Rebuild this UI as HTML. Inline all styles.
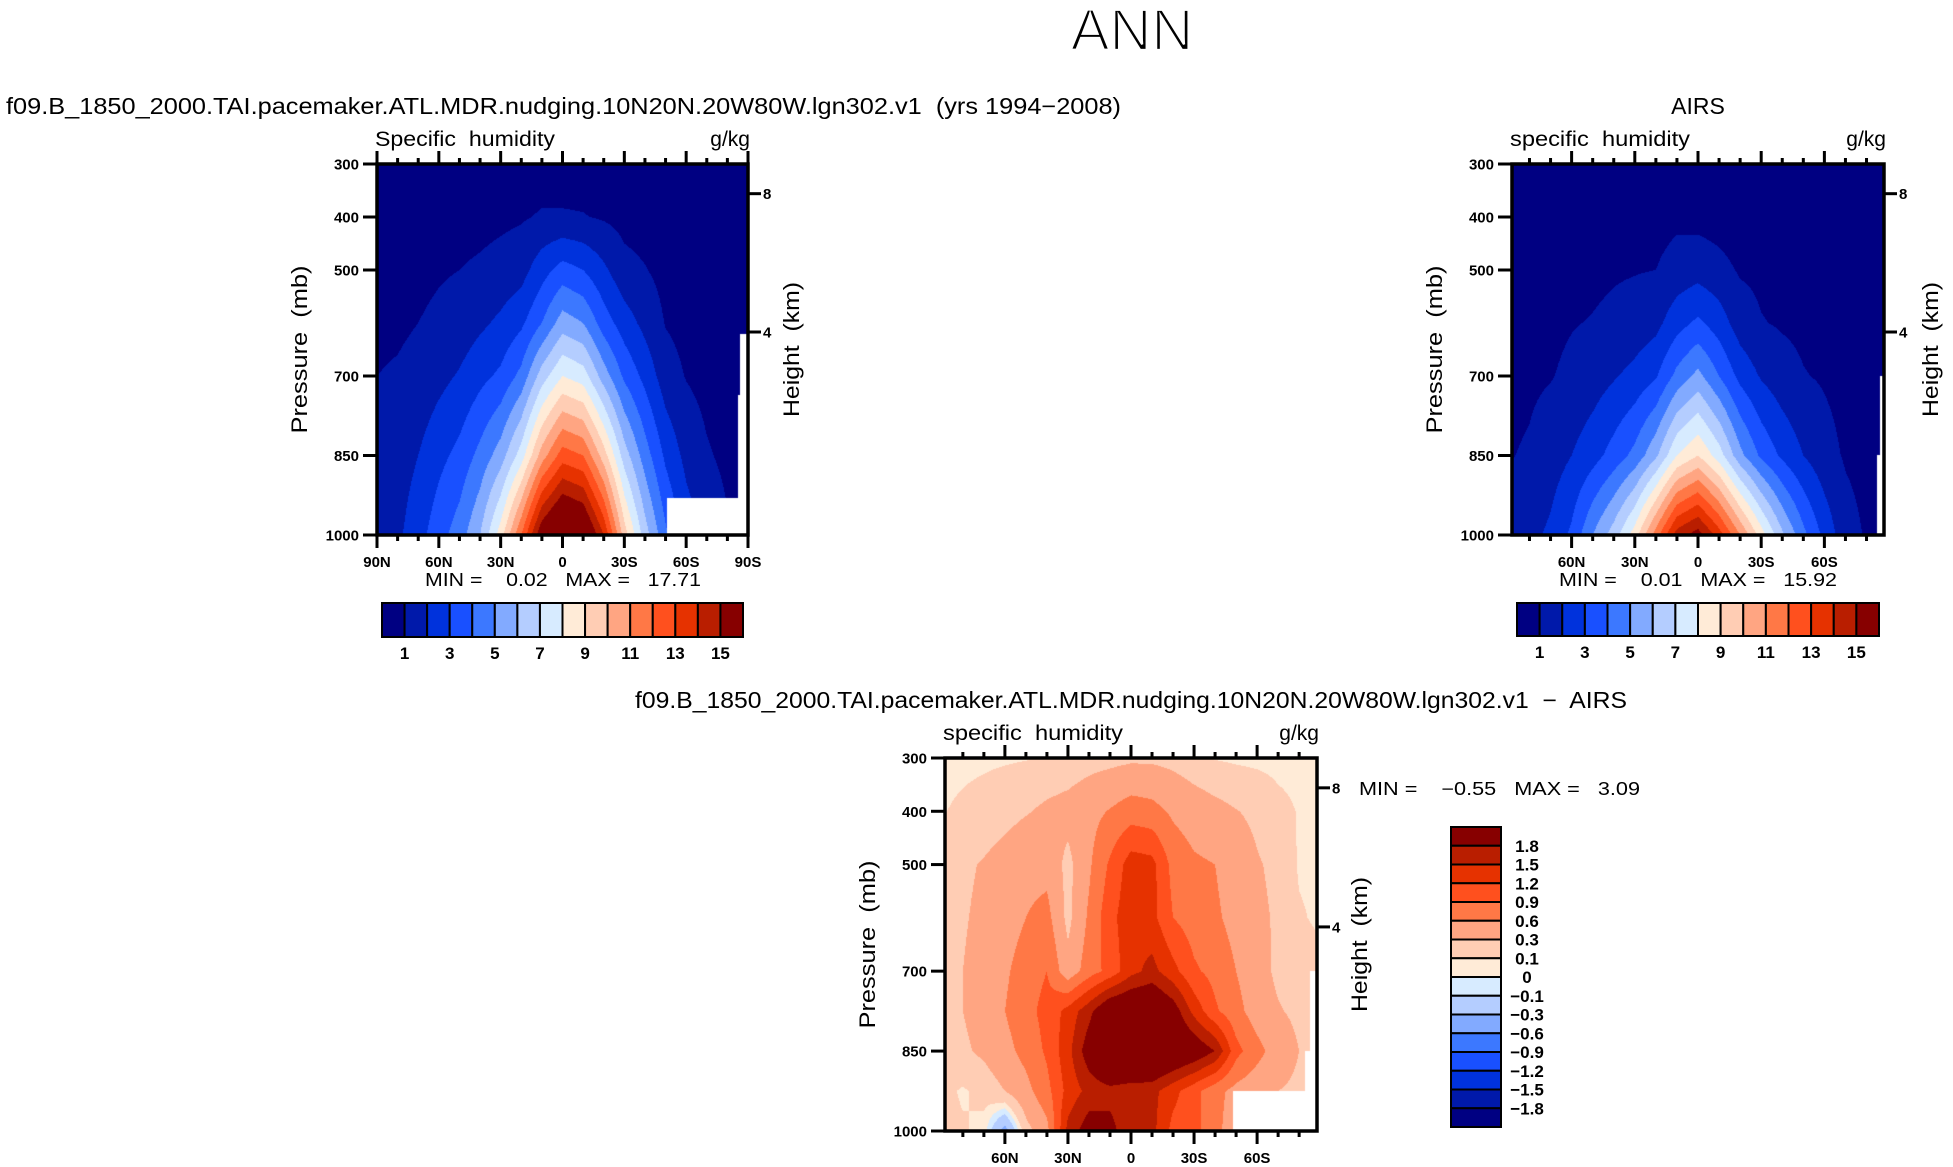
<!DOCTYPE html>
<html><head><meta charset="utf-8"><title>ANN specific humidity</title>
<style>
html,body{margin:0;padding:0;background:#fff;}
#root{position:relative;width:1953px;height:1167px;overflow:hidden;background:#fff;}
canvas{position:absolute;}
svg{position:absolute;left:0;top:0;}
text{font-family:"Liberation Sans",sans-serif;fill:#000;white-space:pre;}
.tk{font-weight:bold;font-size:15px;}
</style></head>
<body>
<div id="root">
<canvas id="c1"></canvas>
<canvas id="c2"></canvas>
<canvas id="c3"></canvas>
<svg id="svg" width="1953" height="1167" xmlns="http://www.w3.org/2000/svg">
<text x="1132" y="50" font-size="58" text-anchor="middle" stroke="#fff" stroke-width="2.2">ANN</text>
<text x="6" y="114" font-size="23" textLength="1115" lengthAdjust="spacingAndGlyphs">f09.B_1850_2000.TAI.pacemaker.ATL.MDR.nudging.10N20N.20W80W.lgn302.v1  (yrs 1994−2008)</text>
<text x="1698" y="114" font-size="23" text-anchor="middle">AIRS</text>
<text x="635" y="708" font-size="23" textLength="992" lengthAdjust="spacingAndGlyphs">f09.B_1850_2000.TAI.pacemaker.ATL.MDR.nudging.10N20N.20W80W.lgn302.v1  −  AIRS</text>
</svg>
</div>
<script>
// ---------- DATA ----------
const lats = [90,80,70,60,50,40,30,20,10,0,-10,-20,-30,-40,-50,-60,-70,-80,-90];
const qPressures = [300,400,500,600,700,850,1000];
// model specific humidity (g/kg), one profile per latitude, 300 -> 1000 mb
const modelQ = [
 [0.2,0.4,0.6,0.8,1.0,1.3,1.5],
 [0.25,0.45,0.65,0.85,1.1,1.5,1.8],
 [0.3,0.5,0.75,1.0,1.3,2.0,2.6],
 [0.3,0.6,0.9,1.2,1.7,2.7,3.6],
 [0.35,0.65,1.0,1.4,2.1,3.3,4.5],
 [0.35,0.7,1.15,1.8,2.7,4.3,6.0],
 [0.4,0.8,1.35,2.2,3.2,5.5,8.5],
 [0.4,0.9,1.6,2.8,4.3,7.5,12],
 [0.5,1.1,2.6,4.0,6.5,10.5,16],
 [0.5,1.1,3.4,5.5,8,12.5,17.7],
 [0.5,1.05,3.0,5.0,7.5,12,17],
 [0.4,0.9,2.2,3.5,5.5,9.5,14],
 [0.35,0.7,1.3,2.5,3.8,6.5,9.5],
 [0.3,0.6,1.05,1.7,2.7,4.5,6.5],
 [0.25,0.45,0.7,0.95,1.45,2.8,4.2],
 [0.2,0.35,0.5,0.7,0.95,1.7,2.6],
 [0.2,0.3,0.4,0.5,0.7,1.1,1.7],
 [0.15,0.25,0.35,0.45,0.55,0.8,1.1],
 [0.1,0.2,0.3,0.4,0.5,0.7,0.9]
];
// AIRS specific humidity (g/kg)
const airsQ = [
 [0.2,0.3,0.45,0.6,0.75,0.95,1.4],
 [0.2,0.35,0.5,0.7,0.85,1.1,1.7],
 [0.2,0.4,0.6,0.8,0.95,1.5,2.2],
 [0.25,0.45,0.7,0.95,1.2,2.0,3.2],
 [0.3,0.5,0.8,1.05,1.5,2.6,5.0],
 [0.3,0.55,0.9,1.2,1.9,3.4,6.5],
 [0.35,0.6,0.95,1.4,2.3,4.3,8.5],
 [0.4,0.65,1.0,1.7,2.9,5.8,11.5],
 [0.4,0.8,1.4,2.6,4.3,8.0,14.5],
 [0.35,0.7,1.6,3.2,5.3,9.0,15.5],
 [0.35,0.6,1.3,2.5,4.0,7.5,13.5],
 [0.3,0.5,0.9,1.5,2.7,5.3,11],
 [0.3,0.45,0.8,1.05,1.9,3.8,8.5],
 [0.3,0.45,0.7,0.9,1.4,2.8,6.2],
 [0.25,0.4,0.6,0.8,1.05,2.0,4.3],
 [0.2,0.35,0.5,0.7,0.9,1.35,2.7],
 [0.15,0.3,0.4,0.55,0.7,0.9,1.4],
 [0.1,0.2,0.3,0.4,0.5,0.7,0.9],
 [0.1,0.15,0.25,0.35,0.45,0.6,0.8]
];
const diffPressures = [300,400,500,600,700,775,850,925,1000];
// model minus AIRS (g/kg)
const diffQ = [
 [0.05,0.09,0.2,0.22,0.22,0.24,0.2,0.15,0.15],
 [0.06,0.13,0.26,0.28,0.3,0.3,0.26,0.08,0.12],
 [0.07,0.17,0.32,0.35,0.38,0.4,0.35,0.15,0.05],
 [0.08,0.22,0.4,0.45,0.55,0.6,0.5,0.3,-0.4],
 [0.09,0.28,0.5,0.6,0.75,0.8,0.7,0.5,0.2],
 [0.12,0.35,0.5,0.7,0.9,1.0,0.95,0.8,0.5],
 [0.15,0.4,0.22,0.22,0.4,1.3,1.4,1.3,1.6],
 [0.2,0.5,0.55,0.65,0.75,1.7,2.0,1.6,2.0],
 [0.22,0.62,0.95,1.1,1.0,2.2,2.5,1.7,1.9],
 [0.25,0.75,1.35,1.4,1.4,2.3,2.6,1.6,1.6],
 [0.25,0.7,1.3,1.3,1.6,2.3,2.5,1.6,1.6],
 [0.22,0.55,0.8,0.9,1.3,2.0,2.3,1.3,1.1],
 [0.15,0.45,0.65,0.75,0.95,1.4,2.1,1.0,1.0],
 [0.09,0.38,0.6,0.65,0.8,0.95,1.8,0.7,0.7],
 [0.07,0.31,0.45,0.5,0.6,0.7,1.0,0.5,0.4],
 [0.06,0.25,0.32,0.35,0.4,0.45,0.7,0.4,0.3],
 [0.05,0.15,0.25,0.27,0.25,0.32,0.45,0.3,0.2],
 [0.05,0.09,0.08,0.12,0.2,0.25,0.3,0.25,0.2],
 [0.05,0.07,0.06,0.07,0.15,0.2,0.25,0.2,0.2]
];
// missing-data regions [latNorth, latSouth, pTop, pBottom]
const modelMissing = [[-50.5,-90,930,1000],[-86,-90,620,1000],[-85,-90,735,1000]];
const airsMissing = [[-86.5,-90,700,1000],[-85,-90,850,1000]];
const diffMissing = [[-48.5,-90,925,1000],[-85,-90,700,1000],[-83,-90,850,1000]];
const qLevels = [1,2,3,4,5,6,7,8,9,10,11,12,13,14,15];
const qLabels = ["1","3","5","7","9","11","13","15"];
const diffLevels = [-1.8,-1.5,-1.2,-0.9,-0.6,-0.3,-0.1,0,0.1,0.3,0.6,0.9,1.2,1.5,1.8];
const diffLabels = ["−1.8","−1.5","−1.2","−0.9","−0.6","−0.3","−0.1","0","0.1","0.3","0.6","0.9","1.2","1.5","1.8"];
const pressureTicks = [300,400,500,700,850,1000];
const heightTicks = [{km:8,p:356},{km:4,p:617}];
const minMaxModel = ["0.02","17.71"];
const minMaxAirs = ["0.01","15.92"];
const minMaxDiff = ["−0.55","3.09"];

const palette = [[0,0,130],[0,25,170],[0,50,220],[25,80,255],[60,120,255],[130,170,255],[180,205,255],[215,235,255],
 [255,235,215],[255,205,180],[255,165,130],[255,120,70],[255,80,30],[230,50,0],[185,30,0],[135,0,0]];

// ---------- helpers ----------
const NS="http://www.w3.org/2000/svg";
const svg=document.getElementById('svg');
function mk(tag,attrs,parent){const e=document.createElementNS(NS,tag);for(const k in attrs)e.setAttribute(k,attrs[k]);(parent||svg).appendChild(e);return e;}
function rgb(c){return 'rgb('+c[0]+','+c[1]+','+c[2]+')';}
function levelIndex(v,levels){let i=0;while(i<levels.length&&v>=levels[i])i++;return i;}
function sample(grid,pres,lat,p){
  let i=0;while(i<lats.length-2&&lat<lats[i+1])i++;
  let j=0;while(j<pres.length-2&&p>pres[j+1])j++;
  const tx=Math.min(1,Math.max(0,(lats[i]-lat)/(lats[i]-lats[i+1])));
  const ty=Math.min(1,Math.max(0,(p-pres[j])/(pres[j+1]-pres[j])));
  const a=grid[i][j],b=grid[i+1][j],c=grid[i][j+1],d=grid[i+1][j+1];
  return (a*(1-tx)+b*tx)*(1-ty)+(c*(1-tx)+d*tx)*ty;
}
function inMissing(boxes,lat,p){for(const b of boxes){if(lat<=b[0]&&lat>=b[1]&&p>=b[2]&&p<=b[3])return true;}return false;}

function drawPanel(P){
  const xOf=lat=>P.left+(P.latMax-lat)/(2*P.latMax)*P.w;
  const yOf=p=>P.top+(p-300)/700*P.h;
  const cv=document.getElementById(P.canvas);
  cv.width=P.w;cv.height=P.h;cv.style.left=P.left+'px';cv.style.top=P.top+'px';
  const ctx=cv.getContext('2d');const img=ctx.createImageData(P.w,P.h);
  for(let py=0;py<P.h;py++){const p=300+(py+0.5)/P.h*700;
    for(let px=0;px<P.w;px++){const lat=P.latMax-(px+0.5)/P.w*2*P.latMax;const k=(py*P.w+px)*4;
      if(inMissing(P.missing,lat,p)){img.data[k]=255;img.data[k+1]=255;img.data[k+2]=255;img.data[k+3]=255;continue;}
      const c=palette[levelIndex(sample(P.grid,P.pres,lat,p),P.levels)];
      img.data[k]=c[0];img.data[k+1]=c[1];img.data[k+2]=c[2];img.data[k+3]=255;}}
  ctx.putImageData(img,0,0);
  const g=mk('g',{});
  
  
  for(let lat=-90;lat<=90;lat+=10){if(Math.abs(lat)>P.latMax+0.01)continue;
    const x=xOf(lat);const major=(lat%30===0);const L=major?13:6;
    mk('line',{x1:x,y1:P.top,x2:x,y2:P.top-L,stroke:'#000','stroke-width':3},g);
    mk('line',{x1:x,y1:P.top+P.h,x2:x,y2:P.top+P.h+L,stroke:'#000','stroke-width':3},g);
    if(major&&(Math.abs(lat)<90||P.latMax>=90)){
      const t=mk('text',{x:x,y:P.top+P.h+32,'text-anchor':'middle',class:'tk'},g);
      t.textContent=lat===0?'0':(Math.abs(lat)+(lat>0?'N':'S'));
      
      }}
  for(const p of pressureTicks){const y=yOf(p);
    mk('line',{x1:P.left,y1:y,x2:P.left-14,y2:y,stroke:'#000','stroke-width':3},g);
    const t=mk('text',{x:P.left-18,y:y+5.5,'text-anchor':'end',class:'tk'},g);t.textContent=p;
    
    }
  for(const h of heightTicks){const y=yOf(h.p);
    mk('line',{x1:P.left+P.w,y1:y,x2:P.left+P.w+13,y2:y,stroke:'#000','stroke-width':3},g);
    const t=mk('text',{x:P.left+P.w+15,y:y+5.5,class:'tk'},g);t.textContent=h.km;
    
    }
  const fr=mk('rect',{x:P.left,y:P.top,width:P.w,height:P.h,fill:'none',stroke:'#000','stroke-width':3.5},g);
  
  
  const s=mk('text',{x:P.left-2,y:P.top-18,'font-size':21,textLength:180,lengthAdjust:'spacingAndGlyphs'},g);s.textContent=P.var;
  
  
  const u=mk('text',{x:P.left+P.w+2,y:P.top-18,'font-size':21,'text-anchor':'end'},g);u.textContent='g/kg';
  
  
  const cy=P.top+P.h/2;
  const yt=mk('text',{x:0,y:0,'font-size':22,'text-anchor':'middle',textLength:168,lengthAdjust:'spacingAndGlyphs',transform:'translate('+(P.left-70)+','+cy+') rotate(-90)'},g);
  yt.textContent='Pressure  (mb)';
  
  
  const ht=mk('text',{x:0,y:0,'font-size':22,'text-anchor':'middle',textLength:135,lengthAdjust:'spacingAndGlyphs',transform:'translate('+(P.left+P.w+P.hOff)+','+cy+') rotate(-90)'},g);
  ht.textContent='Height  (km)';
  
  
  const mm=mk('text',{x:P.mmX,y:P.mmY,'font-size':18,textLength:P.mmLen,lengthAdjust:'spacingAndGlyphs','xml:space':'preserve'},g);
  mm.textContent='MIN =    '+P.mm[0]+'   MAX =   '+P.mm[1];
  
  
}
function hColorbar(x0,x1,y0,y1,name){
  const g=mk('g',{});
  
  
  const bw=(x1-x0)/palette.length;
  palette.forEach((c,i)=>{const r=mk('rect',{x:x0+i*bw,y:y0,width:bw,height:y1-y0,fill:rgb(c),stroke:'#000','stroke-width':2},g);
    
    });
  qLabels.forEach((l,k)=>{const t=mk('text',{x:x0+(2*k+1)*bw,y:y1+22,'text-anchor':'middle','font-size':17,'font-weight':'bold'},g);t.textContent=l;
    
    });
}
function vColorbar(x0,x1,y0,y1,name){
  const g=mk('g',{});
  
  
  const n=palette.length,bh=(y1-y0)/n;
  for(let k=0;k<n;k++){const c=palette[n-1-k];
    const r=mk('rect',{x:x0,y:y0+k*bh,width:x1-x0,height:bh,fill:rgb(c),stroke:'#000','stroke-width':2},g);
    
    }
  for(let k=0;k<diffLabels.length;k++){const lab=diffLabels[diffLabels.length-1-k];
    const t=mk('text',{x:1527,y:y0+(k+1)*bh+6,'text-anchor':'middle','font-size':17,'font-weight':'bold'},g);t.textContent=lab;
    
    }
}
drawPanel({name:'model',canvas:'c1',left:377,top:164,w:371,h:371,latMax:90,grid:modelQ,pres:qPressures,levels:qLevels,missing:modelMissing,
  var:'Specific  humidity',hOff:51,mm:minMaxModel,mmX:425,mmY:586,mmLen:276});
drawPanel({name:'airs',canvas:'c2',left:1512,top:164,w:372,h:371,latMax:88.3,grid:airsQ,pres:qPressures,levels:qLevels,missing:airsMissing,
  var:'specific  humidity',hOff:54,mm:minMaxAirs,mmX:1559,mmY:586,mmLen:278});
drawPanel({name:'difference',canvas:'c3',left:945,top:758,w:372,h:373,latMax:88.5,grid:diffQ,pres:diffPressures,levels:diffLevels,missing:diffMissing,
  var:'specific  humidity',hOff:50,mm:minMaxDiff,mmX:1359,mmY:795,mmLen:281});
hColorbar(382,743,603,637,'model-colorbar');
hColorbar(1517,1879,603,636,'airs-colorbar');
vColorbar(1451,1501,827,1127,'difference-colorbar');
</script>
</body></html>
